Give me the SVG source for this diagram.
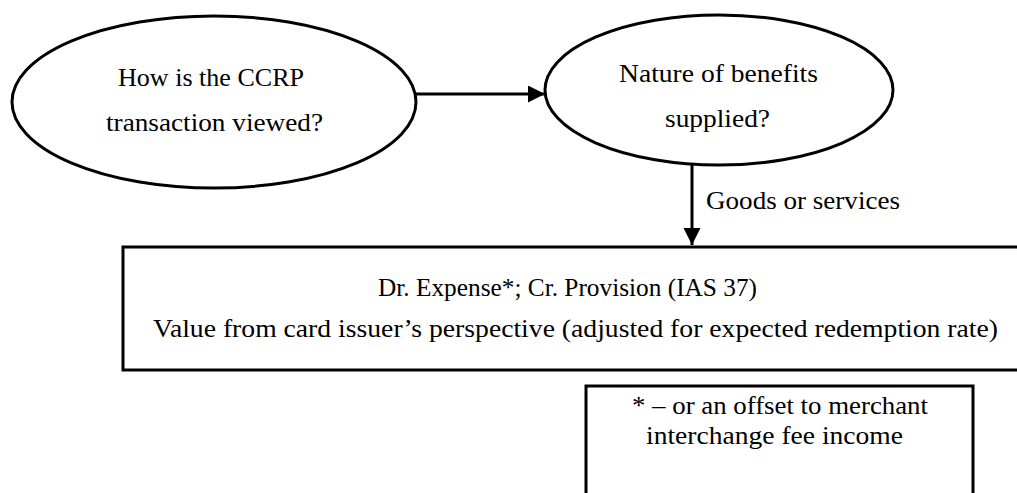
<svg xmlns="http://www.w3.org/2000/svg" width="1017" height="493" viewBox="0 0 1017 493">
  <style>
    .shape { fill: #ffffff; stroke: #000000; stroke-width: 3; }
    .edge { fill: none; stroke: #000000; stroke-width: 3; }
    .label { font-family: "Liberation Serif", "Times New Roman", serif; font-size: 26px; fill: #000000; text-anchor: middle; }
    .side { text-anchor: start; }
  </style>
  <defs>
    <marker id="arrow" markerUnits="userSpaceOnUse" markerWidth="18" markerHeight="18" refX="17" refY="8.5" orient="auto">
      <path d="M0,0 L17,8.5 L0,17 Z" fill="#000000"/>
    </marker>
  </defs>
  <rect width="1017" height="493" fill="#ffffff"/>

  <g id="connectors">
    <line class="edge" x1="416" y1="94" x2="545" y2="94" marker-end="url(#arrow)"/>
    <line class="edge" x1="692" y1="165" x2="692" y2="245" marker-end="url(#arrow)"/>
    <text class="label side" x="706" y="209" textLength="194" lengthAdjust="spacingAndGlyphs">Goods or services</text>
  </g>

  <g id="node-ccrp">
    <ellipse class="shape" cx="214" cy="102" rx="202" ry="86"/>
    <text class="label" x="211" y="86" textLength="186" lengthAdjust="spacingAndGlyphs">How is the CCRP</text>
    <text class="label" x="214.5" y="131" textLength="217" lengthAdjust="spacingAndGlyphs">transaction viewed?</text>
  </g>

  <g id="node-nature">
    <ellipse class="shape" cx="719" cy="90" rx="174" ry="75"/>
    <text class="label" x="718.5" y="82" textLength="199" lengthAdjust="spacingAndGlyphs">Nature of benefits</text>
    <text class="label" x="717.5" y="127" textLength="105" lengthAdjust="spacingAndGlyphs">supplied?</text>
  </g>

  <g id="node-entry">
    <rect class="shape" x="123" y="247" width="906" height="123"/>
    <text class="label" x="567.5" y="296" textLength="379" lengthAdjust="spacingAndGlyphs">Dr. Expense*; Cr. Provision (IAS 37)</text>
    <text class="label" x="575.5" y="337" textLength="845" lengthAdjust="spacingAndGlyphs">Value from card issuer’s perspective (adjusted for expected redemption rate)</text>
  </g>

  <g id="node-note">
    <rect class="shape" x="586" y="386" width="387" height="120"/>
    <text class="label" x="780" y="414" textLength="296" lengthAdjust="spacingAndGlyphs">* – or an offset to merchant</text>
    <text class="label" x="774.5" y="444" textLength="257" lengthAdjust="spacingAndGlyphs">interchange fee income</text>
  </g>
</svg>
